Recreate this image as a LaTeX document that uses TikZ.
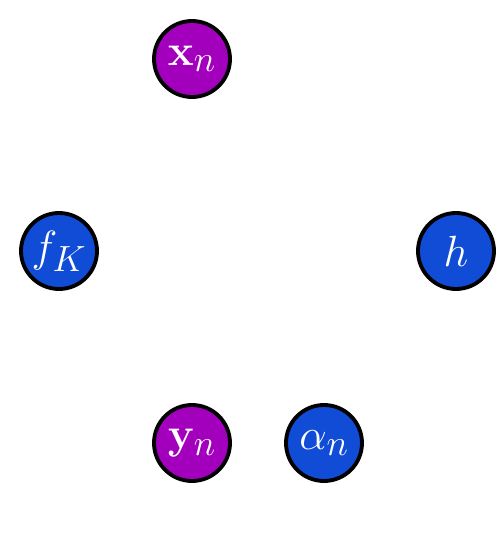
\documentclass[tikz,border=0pt]{standalone}
\usepackage{amsmath}
\usepackage{tikz}
\definecolor{obscol}{RGB}{163,0,190}
\definecolor{latcol}{RGB}{16,76,214}

\begin{document}
\begin{tikzpicture}[x=1cm,y=1cm,vr/.style n args={1}{circle,draw=black,line width=2.2pt,fill=#1,text=white,minimum size=1.52cm,inner sep=0pt,font=\Huge}]
\useasboundingbox (0,0) rectangle (10,10.96);
\node[vr=obscol] (xn) at (3.84,9.78) {$\mathbf{x}_n$};
\node[vr=latcol] (fK) at (1.18,5.94) {$f_K$};
\node[vr=latcol] (h) at (9.12,5.94) {$h$};
\node[vr=obscol] (yn) at (3.84,2.10) {$\mathbf{y}_n$};
\node[vr=latcol] (an) at (6.48,2.10) {$\alpha_n$};
\end{tikzpicture}
\end{document}
